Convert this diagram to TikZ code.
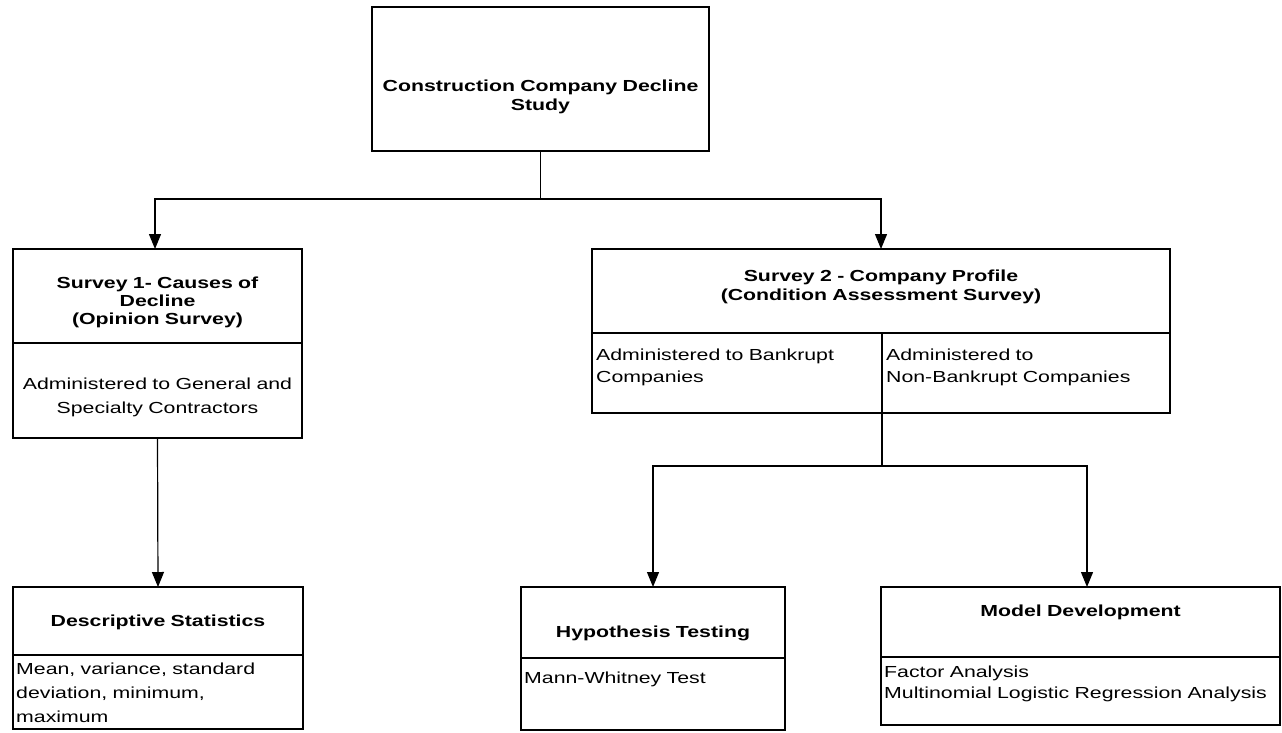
\documentclass[tikz,border=0pt]{standalone}
\usepackage{fontspec}
\setmainfont{Liberation Sans}[FakeStretch=1.33]
\usetikzlibrary{arrows.meta,calc}
\begin{document}
\begin{tikzpicture}[x=1pt,y=-1pt,
  box/.style n args={2}{draw=black, line width=1.2pt, inner sep=0pt, outer sep=0pt,
    minimum width=#1, minimum height=#2},
  ctext/.style={align=center, text width=420pt, inner sep=0pt, anchor=base},
  ltext/.style={align=left, text width=420pt, inner sep=0pt, anchor=base west},
  bf/.style={font=\bfseries\fontsize{16}{#1}\selectfont},
  rm/.style={font=\fontsize{16}{#1}\selectfont},
  wire/.style={draw=black, line width=1.2pt},
  arr/.style={wire, -{Triangle[length=15pt,width=12pt]}}]

% canvas
\path[fill=white, use as bounding box] (0,0) rectangle (1282,732);

% top box
\node[box={337pt}{144pt}] (top) at (540.5,79) {};
\node[ctext, bf=19] (toptxt) at (540.5,91) {Construction Company Decline\\Study};

% survey 1
\node[box={289pt}{94pt}] (s1h) at (157.5,296) {};
\node[box={289pt}{95pt}] (s1b) at (157.5,390.5) {};
\node[ctext, bf=18] (s1t) at (157.5,288) {Survey 1- Causes of\\Decline\\(Opinion Survey)};
\node[ctext, rm=24] (s1x) at (157.5,389) {Administered to General and\\Specialty Contractors};

% survey 2
\node[box={578pt}{84pt}] (s2h) at (881,291) {};
\node[box={290pt}{80pt}] (s2l) at (737,373) {};
\node[box={288pt}{80pt}] (s2r) at (1026,373) {};
\node[ctext, bf=19] (s2t) at (881,281) {Survey 2 - Company Profile\\(Condition Assessment Survey)};
\node[ltext, rm=22] (s2lx) at (596,360) {Administered to Bankrupt\\Companies};
\node[ltext, rm=22] (s2rx) at (886,360) {Administered to\\Non-Bankrupt Companies};

% descriptive statistics
\node[box={290pt}{68pt}] (dsh) at (158,621) {};
\node[box={290pt}{74pt}] (dsb) at (158,692) {};
\node[ctext, bf=19] (dst) at (158,626) {Descriptive Statistics};
\node[ltext, rm=24] (dsx) at (16,674) {Mean, variance, standard\\deviation, minimum,\\maximum};

% hypothesis testing
\node[box={264pt}{71pt}] (hyh) at (653,622.5) {};
\node[box={264pt}{72pt}] (hyb) at (653,694) {};
\node[ctext, bf=19] (hyt) at (653,637) {Hypothesis Testing};
\node[ltext, rm=23] (hyx) at (524,683) {Mann-Whitney Test};

% model development
\node[box={399pt}{70pt}] (mdh) at (1080.5,622) {};
\node[box={399pt}{68pt}] (mdb) at (1080.5,691) {};
\node[ctext, bf=19] (mdt) at (1080.5,616) {Model Development};
\node[ltext, rm=21] (mdx) at (884,677) {Factor Analysis\\Multinomial Logistic Regression Analysis};

% connectors
\coordinate (j0) at ($(top.south)+(0,48)$);
\draw[wire] (top.south) -- (j0);
\draw[arr] (j0) -| ([xshift=-2.5pt]s1h.north);
\draw[arr] (j0) -| (s2h.north);
\draw[arr] (s1b.south) -- (dsh.north);
\coordinate (j1) at ($(s2l.south east)+(0,53)$);
\draw[wire] (s2l.south east) -- (j1);
\draw[arr] (j1) -| (hyh.north);
\draw[arr] (j1) -| ([xshift=6.5pt]mdh.north);
\end{tikzpicture}
\end{document}
